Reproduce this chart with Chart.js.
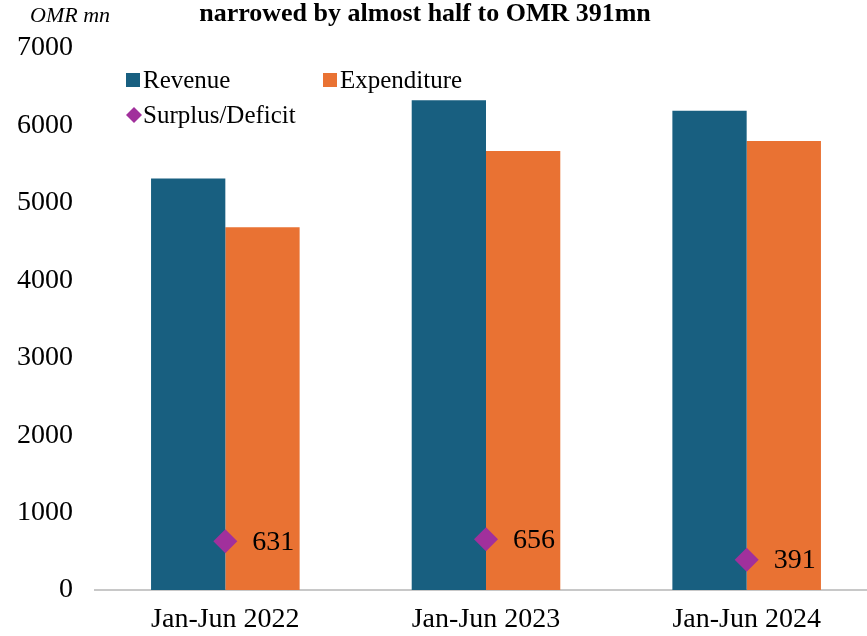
<!DOCTYPE html>
<html>
<head>
<meta charset="utf-8">
<script src="https://cdn.jsdelivr.net/npm/chart.js@4"></script>
<style>
html,body{margin:0;padding:0;background:#fff;overflow:hidden;}
#wrap{position:absolute;left:0;top:0;width:889px;height:636px;}
#c{display:block;width:889px;height:636px;}
</style>
</head>
<body>
<div id="wrap"><canvas id="c" width="889" height="636"></canvas></div>
<script>
const categories = ['Jan-Jun 2022', 'Jan-Jun 2023', 'Jan-Jun 2024'];
const revenue = [5315, 6326, 6191];
const expenditure = [4684, 5670, 5800];
const surplus = [631, 656, 391];
const yTicks = [0, 1000, 2000, 3000, 4000, 5000, 6000, 7000];
const titleText = 'narrowed by almost half to OMR 391mn';
const unitText = 'OMR mn';

const SERIF = '"Liberation Serif", "Times New Roman", serif';
const C_REV = '#185f80';
const C_EXP = '#e97233';
const C_SUR = '#a1309c';

const annotations = {
  id: 'annotations',
  afterDraw(chart) {
    const ctx = chart.ctx;
    const area = chart.chartArea;
    ctx.save();
    ctx.fillStyle = '#000';
    ctx.textBaseline = 'middle';
    // title
    ctx.font = 'bold 26px ' + SERIF;
    ctx.textAlign = 'center';
    ctx.fillText(titleText, 425, 14);
    // unit
    ctx.font = 'italic 22px ' + SERIF;
    ctx.textAlign = 'left';
    ctx.fillText(unitText, 30, 16);
    // legend
    const ds = chart.data.datasets;
    const lx = area.left + 31;
    const items = [
      {x: lx, y: 80, d: ds[0]},
      {x: lx + 197, y: 80, d: ds[1]},
      {x: lx, y: 115, d: ds[2]}
    ];
    ctx.font = '25px ' + SERIF;
    items.forEach(it => {
      ctx.fillStyle = it.d.backgroundColor;
      if (it.d.type === 'line') {
        ctx.beginPath();
        ctx.moveTo(it.x + 8, it.y - 8);
        ctx.lineTo(it.x + 16, it.y);
        ctx.lineTo(it.x + 8, it.y + 8);
        ctx.lineTo(it.x, it.y);
        ctx.closePath();
        ctx.fill();
      } else {
        ctx.fillRect(it.x, it.y - 7, 14, 14);
      }
      ctx.fillStyle = '#000';
      ctx.fillText(it.d.label, it.x + 17, it.y + 1);
    });
    // data labels for surplus
    const meta = chart.getDatasetMeta(2);
    ctx.font = '28px ' + SERIF;
    meta.data.forEach((el, i) => {
      ctx.fillText(String(surplus[i]), el.x + 27, el.y + 1);
    });
    ctx.restore();
  }
};

new Chart(document.getElementById('c'), {
  data: {
    labels: categories,
    datasets: [
      {type: 'bar', label: 'Revenue', data: revenue, backgroundColor: C_REV, order: 2,
       categoryPercentage: 0.57, barPercentage: 1.0},
      {type: 'bar', label: 'Expenditure', data: expenditure, backgroundColor: C_EXP, order: 2,
       categoryPercentage: 0.57, barPercentage: 1.0},
      {type: 'line', label: 'Surplus/Deficit', data: surplus, backgroundColor: C_SUR, borderColor: C_SUR,
       showLine: false, pointStyle: 'rectRot', pointRadius: 12, pointHoverRadius: 12, pointBorderWidth: 0, order: 1}
    ]
  },
  options: {
    responsive: false,
    animation: false,
    devicePixelRatio: 1,
    layout: {padding: {top: 48, left: 0, right: 1, bottom: 0}},
    plugins: {legend: {display: false}, title: {display: false}, tooltip: {enabled: false}},
    scales: {
      x: {
        grid: {display: false, drawTicks: false},
        border: {display: true, color: '#c8c8c8', width: 2},
        ticks: {color: '#000', font: {family: SERIF, size: 28}, padding: 13, maxRotation: 0},
        afterFit(scale) { scale.height = 46; scale.paddingLeft = 0; scale.paddingRight = 0; }
      },
      y: {
        min: 0, max: 7000,
        afterBuildTicks(scale) { scale.ticks = yTicks.map(v => ({value: v})); },
        grid: {display: false, drawTicks: false},
        border: {display: false},
        ticks: {color: '#000', font: {family: SERIF, size: 28}, padding: 22,
                callback: v => String(v)},
        afterFit(scale) { scale.width = 95; scale.paddingTop = 0; scale.paddingBottom = 0; }
      }
    }
  },
  plugins: [annotations]
});
</script>
</body>
</html>
